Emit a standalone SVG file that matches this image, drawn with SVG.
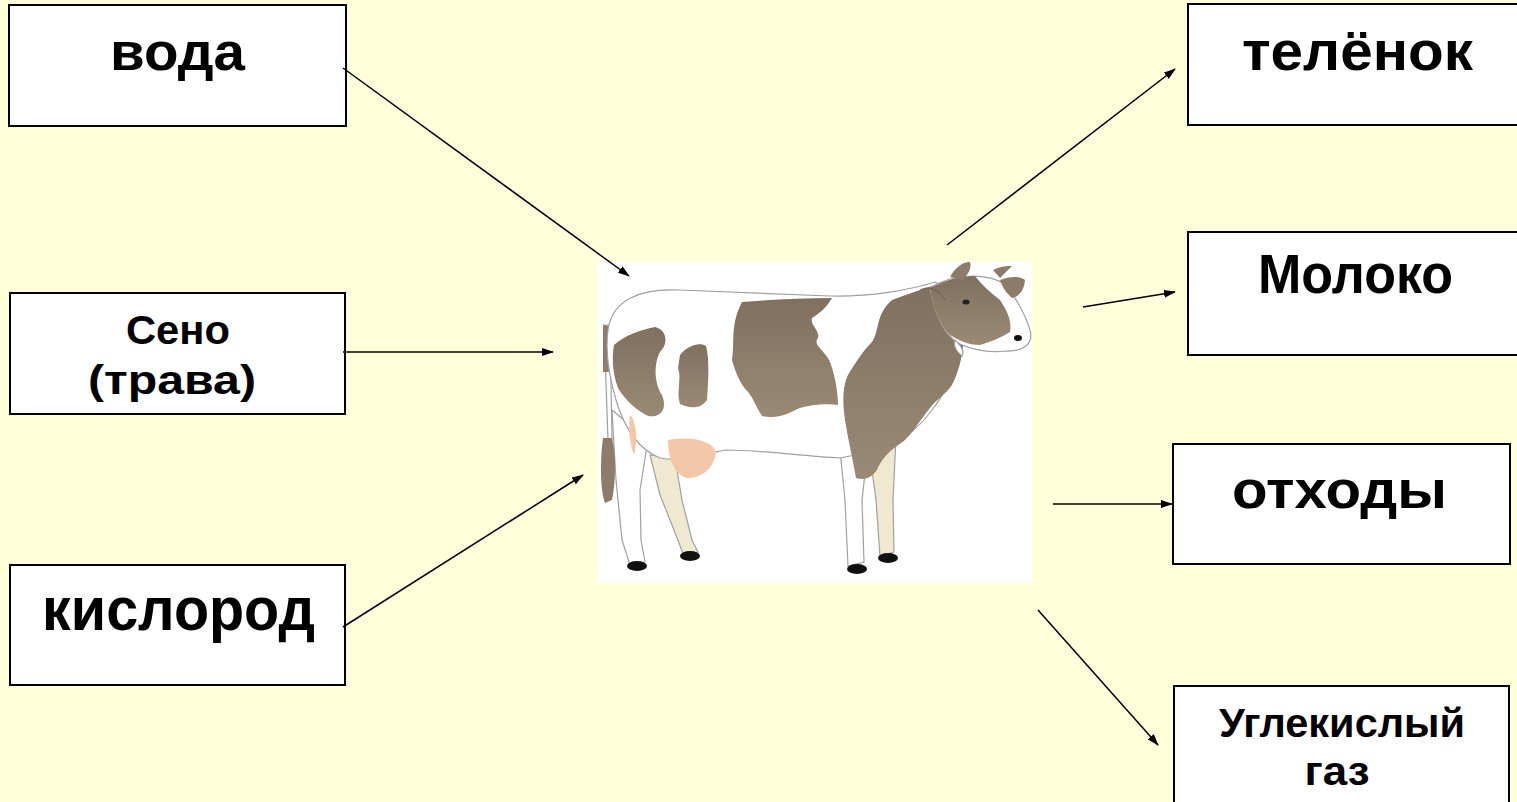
<svg xmlns="http://www.w3.org/2000/svg" width="1517" height="802" viewBox="0 0 1517 802">
<style>
.box{fill:#ffffff;stroke:#000;stroke-width:2}
.t{font-family:"Liberation Sans",Arial,sans-serif;font-weight:bold;fill:#000;text-anchor:middle}
.c{stroke:#000;stroke-width:1.5;fill:none;marker-end:url(#ah)}
.out{stroke:#a0a0a0;stroke-width:1.2}
</style>
<defs>
<marker id="ah" markerWidth="12" markerHeight="8" refX="11" refY="4" orient="auto" markerUnits="userSpaceOnUse">
<path d="M0,0 L12,4 L0,8 Z" fill="#000"/>
</marker>
<linearGradient id="sg" x1="0" y1="0" x2="0" y2="1">
<stop offset="0" stop-color="#7f705f"/>
<stop offset="1" stop-color="#9a8a74"/>
</linearGradient>
</defs>
<rect x="0" y="0" width="1517" height="802" fill="#ffffdb"/>

<g id="cow">
<rect x="598" y="262" width="434" height="321" fill="#ffffff"/>
<path class="out" fill="#efe9cf" d="M650,455 L675,458 L682,500 L692,540 L698,552 L684,556 L672,525 L660,495 Z"/>
<path class="out" fill="#efe9cf" d="M868,440 L896,438 L893,500 L894,552 L880,556 L876,500 Z"/>
<path class="out" fill="#ffffff" d="M612,410 L648,440 L640,490 L641,540 L645,562 L630,565 L622,540 L616,480 Z"/>
<path class="out" fill="#ffffff" d="M838,430 L870,430 L862,500 L864,562 L848,566 L845,500 Z"/>
<ellipse cx="637" cy="566" rx="10" ry="5" fill="#111"/>
<ellipse cx="690" cy="556" rx="10" ry="5" fill="#111"/>
<ellipse cx="857" cy="569" rx="10" ry="5" fill="#111"/>
<ellipse cx="888" cy="558" rx="10" ry="5" fill="#111"/>
<path class="out" fill="#ffffff" d="M604,325 L610,325 L612,440 L608,440 Z"/>
<path fill="#8c7c69" d="M603,325 L609,326 L609,372 L603,372 Z"/>
<path fill="#8c7c69" d="M603,438 C600,460 600,490 605,503 L612,500 C616,480 616,455 612,438 Z"/>
<path class="out" fill="#ffffff" d="M608,330 C612,300 640,288 680,290 L830,296 C870,297 910,290 935,282 L960,300 C966,330 956,380 932,410 C916,432 896,446 870,452 L840,458 C800,456 762,450 725,450 C700,456 680,462 660,458 C640,450 625,430 616,400 C609,376 605,352 608,330 Z"/>
<path fill="#f3c7a8" d="M668,440 C690,436 712,440 716,452 C714,470 700,478 688,478 C676,476 668,462 668,440 Z"/>
<path fill="#f3c7a8" d="M630,415 C636,420 638,440 634,455 C630,445 628,430 630,415 Z"/>
<path fill="url(#sg)" d="M614,345 C625,335 640,330 655,327 C668,330 668,345 660,352 C653,365 655,385 662,395 C668,410 660,418 648,416 C636,410 625,400 618,388 C612,372 612,356 614,345 Z"/>
<path fill="url(#sg)" d="M680,355 C688,345 700,342 706,346 C710,360 708,385 707,400 C700,410 688,408 680,404 C676,392 682,378 678,368 Z"/>
<path fill="url(#sg)" d="M742,302 C770,300 800,298 832,298 C828,305 822,312 812,318 C810,325 820,330 818,338 C812,345 825,350 830,362 C836,378 838,395 838,405 C825,403 810,405 800,408 C790,412 780,420 762,416 C755,405 752,395 746,390 C738,380 735,370 732,360 C735,340 730,325 742,302 Z"/>
<path fill="url(#sg)" d="M892,300 C905,295 920,290 935,285 C945,295 958,298 963,320 C966,345 960,370 952,385 C945,395 938,398 930,408 C920,420 915,430 905,440 C895,448 885,452 877,470 C870,480 862,480 856,478 C853,460 848,440 845,420 C842,400 843,385 848,375 C856,362 862,352 872,342 C880,330 875,315 892,300 Z"/>
<path class="out" fill="#ffffff" d="M930,288 C950,274 985,272 1005,284 C1016,298 1025,314 1030,330 C1034,345 1022,352 1005,351 C990,353 972,350 958,343 C945,335 935,315 930,288 Z"/>
<path fill="url(#sg)" d="M930,288 C945,280 960,276 975,276 C982,285 990,292 1000,300 C1008,312 1012,322 1010,332 C1000,338 990,342 980,345 C968,345 958,340 950,335 C940,325 934,310 930,288 Z"/>
<path fill="#8c7c69" d="M950,277 C955,268 962,262 970,262 C972,268 968,275 962,280 Z"/>
<path fill="#8c7c69" d="M993,270 C1000,266 1008,266 1012,266 C1008,270 1004,274 1000,278 Z"/>
<path fill="#8c7c69" d="M1000,280 C1010,276 1020,276 1025,280 C1024,290 1020,296 1012,298 C1005,292 1002,286 1000,280 Z"/>
<path fill="none" stroke="#6a5c4c" stroke-width="1" d="M920,290 C930,285 940,290 945,300"/>
<ellipse cx="966" cy="302" rx="3.5" ry="2.5" fill="#222"/>
<ellipse cx="1018" cy="338" rx="4" ry="3" fill="#111"/>
<path class="out" fill="#ffffff" d="M955,340 C960,345 965,350 962,356 C957,352 953,346 955,340 Z"/>
</g>

<g id="voda">
<rect class="box" x="9" y="5" width="337" height="121"/>
<text class="t" x="177.5" y="70" font-size="53" textLength="135" lengthAdjust="spacingAndGlyphs">вода</text>
</g>
<g id="seno">
<rect class="box" x="10" y="293" width="335" height="121"/>
<text class="t" x="178" y="344" font-size="40" textLength="104" lengthAdjust="spacingAndGlyphs">Сено</text>
<text class="t" x="172" y="394" font-size="40" textLength="168" lengthAdjust="spacingAndGlyphs">(трава)</text>
</g>
<g id="kislorod">
<rect class="box" x="10" y="565" width="335" height="120"/>
<text class="t" x="178.5" y="630" font-size="62" textLength="273" lengthAdjust="spacingAndGlyphs">кислород</text>
</g>
<g id="telenok">
<rect class="box" x="1188" y="4" width="335" height="121"/>
<text class="t" x="1357.5" y="70" font-size="55" textLength="231" lengthAdjust="spacingAndGlyphs">телёнок</text>
</g>
<g id="moloko">
<rect class="box" x="1188" y="232" width="335" height="123"/>
<text class="t" x="1355.5" y="293" font-size="56" textLength="195" lengthAdjust="spacingAndGlyphs">Молоко</text>
</g>
<g id="othody">
<rect class="box" x="1173" y="444" width="337" height="120"/>
<text class="t" x="1339.5" y="508" font-size="54" textLength="215" lengthAdjust="spacingAndGlyphs">отходы</text>
</g>
<g id="co2">
<rect class="box" x="1174" y="686" width="335" height="125"/>
<text class="t" x="1342" y="737" font-size="40" textLength="246" lengthAdjust="spacingAndGlyphs">Углекислый</text>
<text class="t" x="1337" y="785" font-size="40" textLength="65" lengthAdjust="spacingAndGlyphs">газ</text>
</g>

<g id="connectors">
<line class="c" x1="343" y1="68" x2="629" y2="276"/>
<line class="c" x1="343" y1="352" x2="553" y2="352"/>
<line class="c" x1="343" y1="627" x2="583" y2="475"/>
<line class="c" x1="947" y1="245" x2="1175" y2="69"/>
<line class="c" x1="1083" y1="307" x2="1175" y2="292"/>
<line class="c" x1="1053" y1="504" x2="1172" y2="504"/>
<line class="c" x1="1038" y1="610" x2="1158" y2="745"/>
</g>
</svg>
